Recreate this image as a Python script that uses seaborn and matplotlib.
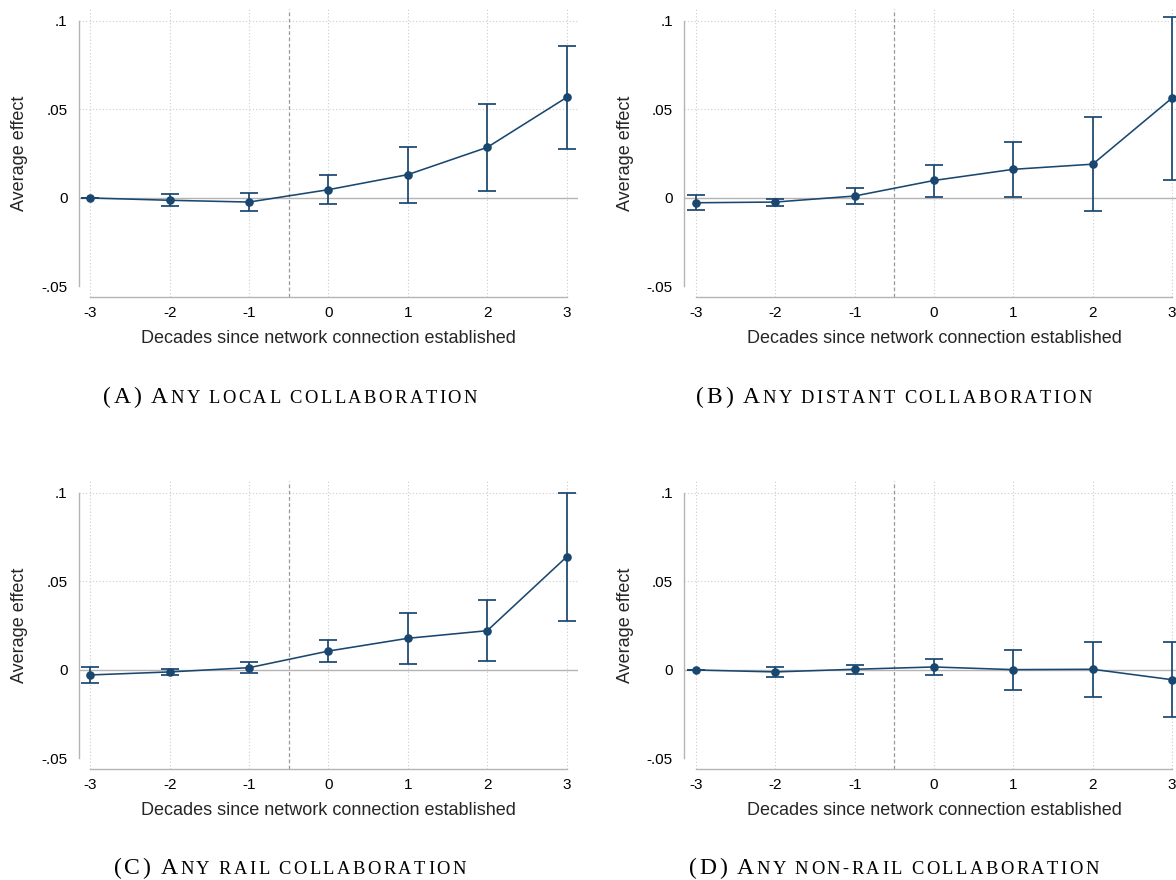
import numpy as np
import pandas as pd
import matplotlib
matplotlib.use("Agg")
import matplotlib.pyplot as plt
import seaborn as sns
from matplotlib.offsetbox import TextArea, HPacker, AnnotationBbox, DrawingArea

# ---------------- data ----------------
decades = [-3, -2, -1, 0, 1, 2, 3]
x_ticklabels = ["-3", "-2", "-1", "0", "1", "2", "3"]
y_ticks = [-0.05, 0.0, 0.05, 0.1]
y_ticklabels = ["-.05", "0", ".05", ".1"]
grid_y = [0.05, 0.1]
event_line = -0.5

local_est = [0.0, -0.0013, -0.0023, 0.0047, 0.0132, 0.0286, 0.0568]
local_lo = [0.0, -0.0043, -0.0073, -0.0034, -0.0026, 0.0041, 0.0278]
local_hi = [0.0, 0.0021, 0.0028, 0.0128, 0.0289, 0.0532, 0.0859]

distant_est = [-0.0027, -0.0023, 0.0011, 0.0099, 0.0162, 0.0191, 0.0565]
distant_lo = [-0.0069, -0.0048, -0.0036, 0.0008, 0.0004, -0.0073, 0.0103]
distant_hi = [0.0017, -0.0004, 0.0057, 0.0189, 0.0319, 0.0456, 0.1025]

rail_est = [-0.0028, -0.0011, 0.0013, 0.0107, 0.0179, 0.0222, 0.0639]
rail_lo = [-0.0071, -0.0028, -0.0019, 0.0045, 0.0034, 0.0049, 0.0278]
rail_hi = [0.0017, 0.0006, 0.0045, 0.0169, 0.0323, 0.0395, 0.0998]

nonrail_est = [0.0, -0.0011, 0.0004, 0.0017, 0.0002, 0.0004, -0.0055]
nonrail_lo = [0.0, -0.0038, -0.0023, -0.0026, -0.0111, -0.0150, -0.0265]
nonrail_hi = [0.0, 0.0015, 0.0028, 0.0062, 0.0115, 0.0158, 0.0156]

captions = [
    ("(A) A", "NY LOCAL COLLABORATION"),
    ("(B) A", "NY DISTANT COLLABORATION"),
    ("(C) A", "NY RAIL COLLABORATION"),
    ("(D) A", "NY NON-RAIL COLLABORATION"),
]
xlabel = "Decades since network connection established"
ylabel = "Average effect"

# ---------------- style ----------------
sns.set_style("white")
plt.rcParams["font.family"] = ["Liberation Sans", "DejaVu Sans"]

NAVY = "#1a476f"
AXGRAY = "#b4b4b4"
GRIDGRAY = "#cccccc"

W, H = 1176, 880
fig = plt.figure(figsize=(W / 100, H / 100), dpi=100)

panels = [
    (local_est, local_lo, local_hi),
    (distant_est, distant_lo, distant_hi),
    (rail_est, rail_lo, rail_hi),
    (nonrail_est, nonrail_lo, nonrail_hi),
]

left_px = [78.5, 684.0]
bottom_px = [297.1, 769.1]
ax_w = 500.0 / W
ax_h = 288.5 / H
cap_x_px = [290, 894]
cap_y_px = [397, 868]

BIG, SMALL, TRACK = 17.0, 13.3, 1.8


def smallcaps(big, small):
    kids = []
    for txt, size in [(big, BIG), (small, SMALL)]:
        for ch in txt:
            if ch == " ":
                kids.append(DrawingArea(0.25 * size - TRACK * 0.3, 1))
            else:
                kids.append(TextArea(ch, textprops=dict(
                    fontsize=size, family="Liberation Serif", color="black")))
    return HPacker(children=kids, align="baseline", pad=0, sep=TRACK)


for i, (est, lo, hi) in enumerate(panels):
    row, col = divmod(i, 2)
    ax = fig.add_axes([left_px[col] / W, 1 - bottom_px[row] / H, ax_w, ax_h])
    df = pd.DataFrame({"decade": decades, "est": est, "lo": lo, "hi": hi})

    ax.set_xlim(-3.15, 3.15)
    ax.set_ylim(-0.056, 0.107)

    # grid
    for xv in decades:
        ax.axvline(xv, color=GRIDGRAY, lw=0.8, ls=(0, (1, 2)), zorder=0)
    for yv in grid_y:
        ax.axhline(yv, color=GRIDGRAY, lw=0.8, ls=(0, (1, 2)), zorder=0)
    ax.axhline(0, color=AXGRAY, lw=1.0, zorder=1)
    ax.axvline(event_line, color="#999999", lw=0.9, ls=(0, (3, 2)), zorder=1)

    # error bars
    yerr = np.vstack([df["est"] - df["lo"], df["hi"] - df["est"]])
    ax.errorbar(df["decade"], df["est"], yerr=yerr, fmt="none",
                ecolor=NAVY, elinewidth=1.25, capsize=6.5, capthick=1.25,
                zorder=3, clip_on=False)
    sns.lineplot(data=df, x="decade", y="est", ax=ax, color=NAVY, lw=1.15,
                 marker="o", markersize=6.2, markeredgewidth=0, zorder=4,
                 clip_on=False)

    ax.set_xticks(decades)
    ax.set_xticklabels(x_ticklabels)
    ax.set_yticks(y_ticks)
    ax.set_yticklabels(y_ticklabels)
    ax.tick_params(axis="x", length=5, width=0.9, color=AXGRAY, pad=1.5,
                   labelsize=11, labelcolor="black")
    ax.tick_params(axis="y", length=6.5, width=0.9, color=AXGRAY, pad=1.5,
                   labelsize=11, labelcolor="black")

    for s in ["top", "right"]:
        ax.spines[s].set_visible(False)
    ax.spines["left"].set_color(AXGRAY)
    ax.spines["bottom"].set_color(AXGRAY)
    ax.spines["left"].set_linewidth(1.0)
    ax.spines["bottom"].set_linewidth(1.0)
    ax.spines["left"].set_bounds(y_ticks[0], y_ticks[-1])
    ax.spines["bottom"].set_bounds(decades[0], decades[-1])

    ax.set_xlabel(xlabel, fontsize=13)
    ax.set_ylabel(ylabel, fontsize=13)
    ax.xaxis.set_label_coords(0.5, -0.114)
    ax.yaxis.set_label_coords(-0.101, 0.5)

    big, small = captions[i]
    ab = AnnotationBbox(smallcaps(big, small),
                        (cap_x_px[col] / W, 1 - cap_y_px[row] / H),
                        xycoords="figure fraction", frameon=False,
                        box_alignment=(0.5, 0.5), pad=0)
    fig.add_artist(ab)

fig.savefig("out.png", dpi=100)
